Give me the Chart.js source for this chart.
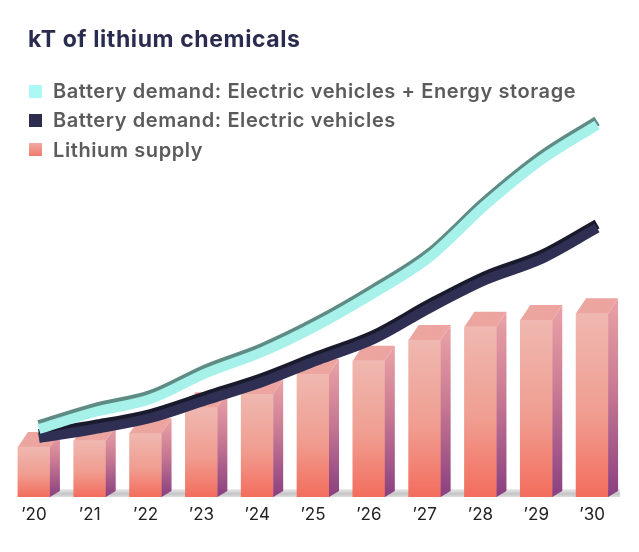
<!DOCTYPE html>
<html>
<head>
<meta charset="utf-8">
<script src="https://cdn.jsdelivr.net/npm/chart.js@4"></script>
<style>
  html, body { margin: 0; padding: 0; background: #fff; }
  #wrap { position: relative; width: 639px; height: 552px; overflow: hidden; font-family: Inter, "Noto Sans", sans-serif; }
  #chart { position: absolute; left: 0; top: 0; }
  .title { position: absolute; left: 28px; top: 28px; font-size: 23px; line-height: 23px; font-weight: 700; color: #2a2c4f; letter-spacing: 0.6px; white-space: nowrap; }
  .item { position: absolute; left: 53px; font-size: 20px; line-height: 20px; font-weight: 600; color: #5b5b5b; letter-spacing: 0.6px; white-space: nowrap; }
  .sw { position: absolute; left: 29px; width: 13px; height: 13px; }
</style>
</head>
<body>
<div id="wrap">
  <canvas id="chart" width="639" height="552"></canvas>
  <div class="title">kT of lithium chemicals</div>
  <div class="sw" style="top:85px;background:#acf8f4"></div>
  <div class="item" style="top:81px">Battery demand: Electric vehicles + Energy storage</div>
  <div class="sw" style="top:114px;background:#2b2c4e"></div>
  <div class="item" style="top:110px">Battery demand: Electric vehicles</div>
  <div class="sw" style="top:143px;background:linear-gradient(#f0aaa2,#f07a6c)"></div>
  <div class="item" style="top:140px">Lithium supply</div>
</div>
<script>
// data (kT)
const years = ['’20','’21','’22','’23','’24','’25','’26','’27','’28','’29','’30'];
const evStorage = [544, 680, 784, 992, 1160, 1376, 1632, 1920, 2336, 2696, 2976];
const evOnly = [472, 544, 632, 776, 920, 1096, 1264, 1512, 1736, 1904, 2152];
const supply = [400, 450, 510, 718, 824, 984, 1090, 1256, 1362, 1416, 1470];

const DX = 10, DY = 15, DB = 6;   // 3d depth of bars
const LINE_SHIFT = 5;

function frontGradient(ctx){
  const chart = ctx.chart;
  if(!chart.chartArea) return '#f29a8e';
  const y = chart.scales.y;
  const v = supply[ctx.dataIndex];
  const top = y.getPixelForValue(v), bottom = y.getPixelForValue(0);
  const g = chart.ctx.createLinearGradient(0, top, 0, bottom);
  g.addColorStop(0, '#efb8b0');
  g.addColorStop(0.55, '#f09d90');
  g.addColorStop(1, '#f36d5d');
  return g;
}

// draws floor strip, top & side faces of bars, and the edge under the lines
const fake3d = {
  id: 'fake3d',
  beforeDatasetsDraw(chart){
    const {ctx, chartArea} = chart;
    const base = chart.scales.y.getPixelForValue(0);
    const g = ctx.createLinearGradient(0, base - 8, 0, base);
    g.addColorStop(0, '#ececec');
    g.addColorStop(0.6, '#c4c4c4');
    g.addColorStop(1, '#dcdcdc');
    ctx.save();
    ctx.fillStyle = g;
    ctx.fillRect(chartArea.left + 12, base - 8, chartArea.width - 12, 8);
    ctx.restore();
  },
  beforeDatasetDraw(chart, args){
    if(args.meta.type !== 'line') return;
    const ctx = chart.ctx;
    ctx.save();
    ctx.translate(LINE_SHIFT, 0);
    ctx.shadowColor = chart.data.datasets[args.index].edgeColor;
    ctx.shadowOffsetX = 0;
    ctx.shadowOffsetY = -4;
    ctx.shadowBlur = 0;
  },
  afterDatasetDraw(chart, args){
    const ctx = chart.ctx;
    if(args.meta.type === 'line'){ ctx.restore(); return; }
    args.meta.data.forEach(bar => {
      const {x, y, base, width} = bar.getProps(['x','y','base','width'], true);
      const l = x - width/2, r = x + width/2;
      ctx.save();
      // top face
      const tg = ctx.createLinearGradient(l, 0, r + DX, 0);
      tg.addColorStop(0, '#eba69f');
      tg.addColorStop(1, '#eea3a0');
      ctx.fillStyle = tg;
      ctx.beginPath();
      ctx.moveTo(l, y);
      ctx.lineTo(l + DX, y - DY);
      ctx.lineTo(r + DX, y - DY);
      ctx.lineTo(r, y);
      ctx.closePath();
      ctx.fill();
      // side face
      const sg = ctx.createLinearGradient(0, y - DY, 0, base);
      sg.addColorStop(0, '#eba3a6');
      sg.addColorStop(0.45, '#c97a93');
      sg.addColorStop(1, '#8a3f80');
      ctx.fillStyle = sg;
      ctx.beginPath();
      ctx.moveTo(r, y);
      ctx.lineTo(r + DX, y - DY);
      ctx.lineTo(r + DX, base - DB);
      ctx.lineTo(r, base);
      ctx.closePath();
      ctx.fill();
      ctx.restore();
    });
  }
};

new Chart(document.getElementById('chart'), {
  type: 'bar',
  data: {
    labels: years,
    datasets: [
      {
        type: 'line',
        label: 'Battery demand: Electric vehicles + Energy storage',
        data: evStorage,
        borderColor: '#a6f1ea',
        edgeColor: '#5e8c85',
        borderWidth: 10,
        pointRadius: 0,
        tension: 0.4,
        cubicInterpolationMode: 'monotone',
        borderCapStyle: 'butt',
        clip: false,
        order: 0
      },
      {
        type: 'line',
        label: 'Battery demand: Electric vehicles',
        data: evOnly,
        borderColor: '#2e2f52',
        edgeColor: '#191a2c',
        borderWidth: 10,
        pointRadius: 0,
        tension: 0.4,
        cubicInterpolationMode: 'monotone',
        borderCapStyle: 'butt',
        clip: false,
        order: 1
      },
      {
        label: 'Lithium supply',
        data: supply,
        backgroundColor: frontGradient,
        barThickness: 32,
        borderWidth: 0,
        order: 2
      }
    ]
  },
  options: {
    responsive: false,
    devicePixelRatio: 1,
    animation: false,
    layout: { padding: { left: 6, right: 19, top: 97, bottom: 18.6 } },
    plugins: {
      legend: { display: false },
      tooltip: { enabled: false }
    },
    scales: {
      x: {
        grid: { display: false, drawTicks: false },
        border: { display: false },
        ticks: { color: '#222', padding: 8, font: { family: 'Inter', size: 17 } }
      },
      y: {
        display: false,
        min: 0,
        max: 3200
      }
    }
  },
  plugins: [fake3d]
});
</script>
</body>
</html>
